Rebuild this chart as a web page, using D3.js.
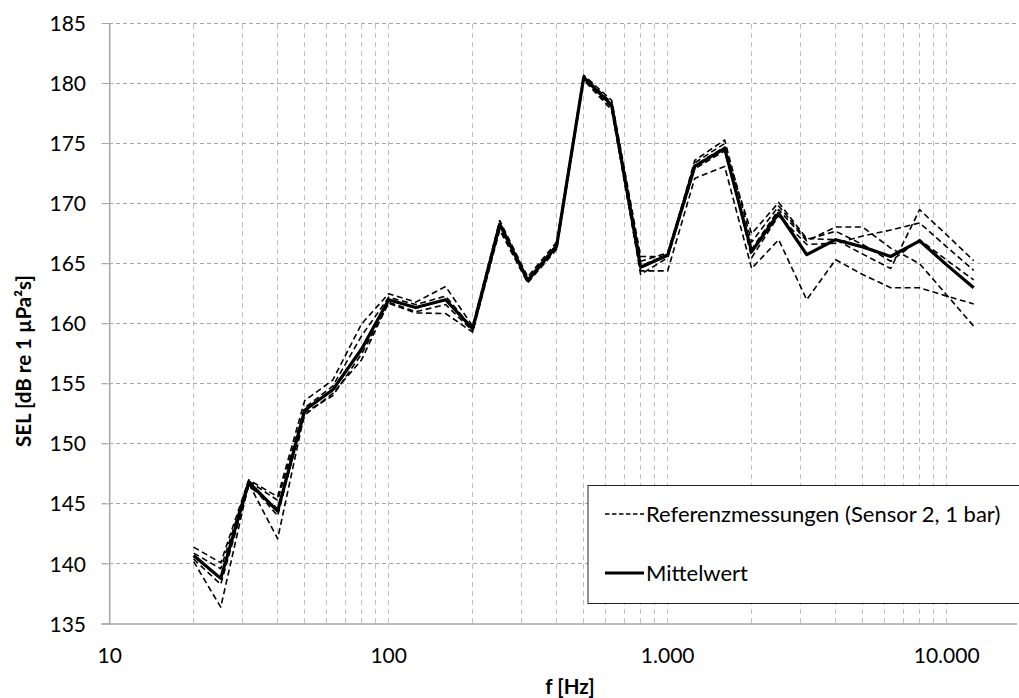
<!DOCTYPE html>
<html>
<head>
<meta charset="utf-8">
<script src="https://cdn.jsdelivr.net/npm/d3@7"></script>
<style>
  html, body { margin: 0; padding: 0; background: #fff; }
  svg { display: block; font-family: Lato, "Open Sans", sans-serif; }
</style>
</head>
<body>
<svg id="chart" width="1019" height="698"></svg>
<script>
// ---- data ----
const freqs = [20, 25, 31.5, 40, 50, 63, 80, 100, 125, 160, 200, 250, 315, 400, 500, 630, 800, 1000, 1250, 1600, 2000, 2500, 3150, 4000, 5000, 6300, 8000, 10000, 12500];

const ref1 = [141.4, 140.1, 147.0, 145.6, 153.6, 155.3, 160.0, 162.5, 161.8, 163.1, 159.8, 168.6, 163.9, 166.8, 180.7, 178.6, 165.6, 165.6, 173.6, 175.3, 166.8, 169.8, 167.0, 167.7, 166.6, 165.2, 167.0, 165.3, 163.65];
const ref2 = [140.9, 139.6, 146.9, 145.3, 153.0, 154.8, 159.0, 162.2, 161.6, 162.3, 159.6, 168.4, 163.7, 166.6, 180.6, 178.4, 165.2, 165.9, 173.4, 175.0, 165.5, 169.0, 166.6, 166.7, 167.3, 167.8, 168.4, 166.4, 164.45];
const ref3 = [140.6, 138.8, 146.8, 144.0, 152.8, 154.5, 158.0, 162.0, 161.3, 162.0, 159.5, 168.2, 163.6, 166.5, 180.5, 178.2, 164.8, 165.8, 173.2, 174.7, 167.5, 170.1, 167.1, 167.0, 165.8, 164.6, 169.5, 167.4, 165.25];
const ref4 = [140.4, 138.3, 146.5, 144.6, 152.4, 154.2, 157.0, 161.8, 161.0, 161.6, 159.4, 168.0, 163.5, 166.3, 180.4, 178.0, 164.1, 165.5, 172.9, 174.4, 166.2, 169.5, 166.9, 168.05, 168.05, 166.3, 165.0, 162.4, 159.8];
const ref5 = [140.2, 136.4, 146.7, 142.1, 152.6, 154.0, 157.5, 161.7, 160.9, 160.85, 159.3, 167.8, 163.4, 166.2, 180.3, 177.8, 164.4, 164.4, 172.1, 173.1, 164.6, 167.0, 162.0, 165.33, 164.1, 163.0, 163.0, 162.3, 161.65];
const meanValues = [140.7, 138.8, 146.8, 144.4, 152.8, 154.5, 157.9, 162.0, 161.35, 162.0, 159.6, 168.3, 163.6, 166.5, 180.5, 178.2, 164.7, 165.7, 173.1, 174.6, 166.0, 169.2, 165.75, 167.0, 166.4, 165.6, 166.9, 164.9, 163.0];

const yTicks = [135, 140, 145, 150, 155, 160, 165, 170, 175, 180, 185];
const xTicks = [10, 100, 1000, 10000];
const xTickLabels = ["10", "100", "1.000", "10.000"];
const refLabel = "Referenzmessungen (Sensor 2, 1 bar)";
const meanLabel = "Mittelwert";
const xTitle = "f [Hz]";
const yTitle = "SEL [dB re 1 µPa²s]";

// ---- layout ----
const svg = d3.select("#chart");
const L = 109.7, R = 1017, T = 23.5, B = 624;
const x = d3.scaleLog().domain([10, 17870]).range([L, R]);
const y = d3.scaleLinear().domain([135, 185]).range([B, T]);

// vertical grid (major + minor)
const vGrid = [];
for (let d = 10; d <= 10000; d *= 10) {
  for (let m = 1; m <= 9; m++) {
    const v = d * m;
    if (v > 10 && v <= 17870) vGrid.push(v);
  }
}
svg.append("g").selectAll("line").data(vGrid).join("line")
  .attr("x1", d => x(d)).attr("x2", d => x(d))
  .attr("y1", T).attr("y2", B)
  .attr("stroke", "#c0c0c0").attr("stroke-width", 1)
  .attr("stroke-dasharray", "5,4")
  .attr("shape-rendering", "crispEdges");

// horizontal grid
svg.append("g").selectAll("line").data(yTicks.filter(d => d > 135)).join("line")
  .attr("x1", L - 8).attr("x2", R)
  .attr("y1", d => y(d)).attr("y2", d => y(d))
  .attr("stroke", "#a8a8a8").attr("stroke-width", 1)
  .attr("stroke-dasharray", "4,3")
  .attr("shape-rendering", "crispEdges");

// axes lines
svg.append("line").attr("x1", L).attr("x2", L).attr("y1", T).attr("y2", B)
  .attr("stroke", "#a6a6a6").attr("stroke-width", 1.5);
svg.append("line").attr("x1", L - 8).attr("x2", R).attr("y1", B).attr("y2", B)
  .attr("stroke", "#a6a6a6").attr("stroke-width", 1.5);
// y ticks
svg.append("g").selectAll("line").data(yTicks).join("line")
  .attr("x1", L - 8).attr("x2", L).attr("y1", d => y(d)).attr("y2", d => y(d))
  .attr("stroke", "#a6a6a6").attr("stroke-width", 1);

// y tick labels
svg.append("g").selectAll("text").data(yTicks).join("text")
  .attr("x", 86).attr("y", d => y(d)).attr("dy", "0.36em")
  .attr("text-anchor", "end").attr("font-size", 21).attr("fill", "#000")
  .text(d => d);

// x tick labels
svg.append("g").selectAll("text").data(xTicks).join("text")
  .attr("x", d => x(d)).attr("y", 663)
  .attr("text-anchor", "middle").attr("font-size", 21).attr("fill", "#000")
  .text((d, i) => xTickLabels[i]);

// axis titles
svg.append("text").attr("x", 570).attr("y", 694)
  .attr("text-anchor", "middle").attr("font-size", 20.5).attr("font-weight", "bold")
  .text(xTitle);
svg.append("text").attr("transform", "translate(31,361) rotate(-90)")
  .attr("text-anchor", "middle").attr("font-size", 20.5).attr("font-weight", "bold")
  .text(yTitle);

// lines
const line = d3.line().x((d, i) => x(freqs[i])).y(d => y(d));
[ref1, ref2, ref3, ref4, ref5].forEach(s => {
  svg.append("path").datum(s).attr("d", line)
    .attr("fill", "none").attr("stroke", "#000").attr("stroke-width", 1.6)
    .attr("stroke-dasharray", "6,3.5").attr("stroke-linejoin", "round");
});
svg.append("path").datum(meanValues).attr("d", line)
  .attr("fill", "none").attr("stroke", "#000").attr("stroke-width", 3.2)
  .attr("stroke-linejoin", "round");

// legend
const lg = svg.append("g");
lg.append("rect").attr("x", 588).attr("y", 485.5).attr("width", 440).attr("height", 118)
  .attr("fill", "#fff").attr("stroke", "#222").attr("stroke-width", 1);
lg.append("line").attr("x1", 605).attr("x2", 644).attr("y1", 514).attr("y2", 514)
  .attr("stroke", "#000").attr("stroke-width", 1.6).attr("stroke-dasharray", "4.5,2.5");
lg.append("text").attr("x", 646).attr("y", 514).attr("dy", "0.36em")
  .attr("font-size", 22).text(refLabel);
lg.append("line").attr("x1", 605).attr("x2", 644).attr("y1", 573).attr("y2", 573)
  .attr("stroke", "#000").attr("stroke-width", 3.2);
lg.append("text").attr("x", 646).attr("y", 573).attr("dy", "0.36em")
  .attr("font-size", 22).text(meanLabel);
</script>
</body>
</html>
